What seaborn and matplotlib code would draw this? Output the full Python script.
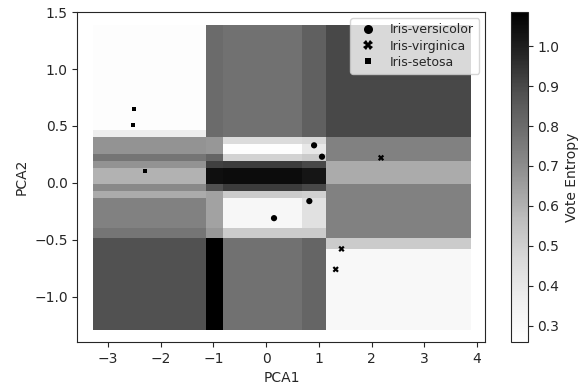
import numpy as np
import pandas as pd
import matplotlib
matplotlib.use("Agg")
import matplotlib.pyplot as plt
import seaborn as sns

# vote-entropy map of the committee
x_edges = [-3.30, -1.14, -0.81, 0.68, 1.12, 3.89]
y_edges = [-1.30, -0.57, -0.48, -0.40, -0.14, -0.075, -0.015,
           0.14, 0.19, 0.25, 0.34, 0.40, 0.46, 1.41]
# rows: y bands bottom -> top, cols: x bands left -> right
entropy = [
    [0.88, 1.085, 0.78, 0.82, 0.31],   # -1.30 .. -0.57
    [0.88, 1.085, 0.78, 0.82, 0.52],   # -0.57 .. -0.48
    [0.77, 0.67, 0.52, 0.52, 0.735],   # -0.48 .. -0.40
    [0.735, 0.64, 0.32, 0.43, 0.735],  # -0.40 .. -0.14
    [0.616, 0.64, 0.52, 0.50, 0.735],  # -0.14 .. -0.075
    [0.71, 0.88, 0.93, 0.90, 0.735],   # -0.075 .. -0.015
    [0.60, 1.04, 1.05, 1.025, 0.616],  # -0.015 .. 0.14
    [0.68, 0.92, 0.93, 0.90, 0.616],   # 0.14 .. 0.19
    [0.77, 0.82, 0.49, 0.52, 0.735],   # 0.19 .. 0.25
    [0.68, 0.67, 0.27, 0.40, 0.735],   # 0.25 .. 0.34
    [0.68, 0.67, 0.45, 0.47, 0.735],   # 0.34 .. 0.40
    [0.37, 0.80, 0.78, 0.835, 0.90],   # 0.40 .. 0.46
    [0.275, 0.80, 0.78, 0.835, 0.90],  # 0.46 .. 1.41
]
grid_x_range = (-3.25, 3.85)
grid_y_range = (-1.27, 1.37)
vmin, vmax = 0.259, 1.085

# the query points shown on top
labels = ["Iris-versicolor"] * 4 + ["Iris-virginica"] * 3 + ["Iris-setosa"] * 3
pca1 = [0.91, 1.06, 0.82, 0.15, 2.18, 1.43, 1.32, -2.51, -2.53, -2.30]
pca2 = [0.33, 0.23, -0.16, -0.31, 0.22, -0.58, -0.76, 0.65, 0.51, 0.105]

# build the background grid
gx, gy = np.meshgrid(np.linspace(*grid_x_range, 110), np.linspace(*grid_y_range, 90))
gx, gy = gx.ravel(), gy.ravel()
xi = np.clip(np.searchsorted(x_edges, gx) - 1, 0, len(x_edges) - 2)
yi = np.clip(np.searchsorted(y_edges, gy) - 1, 0, len(y_edges) - 2)
grid = pd.DataFrame({"PCA1": gx, "PCA2": gy, "entropy": np.array(entropy)[yi, xi]})
pts = pd.DataFrame({"PCA1": pca1, "PCA2": pca2, "label": labels})

sns.set_style("ticks")
fig = plt.figure(figsize=(5.82, 3.92), dpi=100)
ax = fig.add_axes([0.133, 0.127, 0.701, 0.842])
cax = fig.add_axes([0.878, 0.127, 0.029, 0.842])

sns.scatterplot(data=grid, x="PCA1", y="PCA2", hue="entropy", palette="Greys",
                hue_norm=(vmin, vmax), marker="s", s=10, linewidth=0,
                legend=False, ax=ax)
sns.scatterplot(data=pts, x="PCA1", y="PCA2", style="label", color="black",
                s=20, linewidth=0, ax=ax)
sns.move_legend(ax, "upper right", title=None, fontsize=9, labelspacing=0.25)
for h in ax.get_legend().legend_handles:
    if hasattr(h, "set_markersize"):
        h.set_markersize(6.5)
        h.set_color("#222222")
    else:
        h.set_sizes([42])
        h.set_color("#222222")

ax.set_xlim(-3.58, 4.16)
ax.set_ylim(-1.40, 1.50)
ax.set_xticks(range(-3, 5))
ax.set_yticks([-1.0, -0.5, 0.0, 0.5, 1.0, 1.5])

sm = plt.cm.ScalarMappable(cmap="Greys", norm=plt.Normalize(vmin, vmax))
fig.colorbar(sm, cax=cax, label="Vote Entropy")

fig.savefig("out.png", dpi=100)
